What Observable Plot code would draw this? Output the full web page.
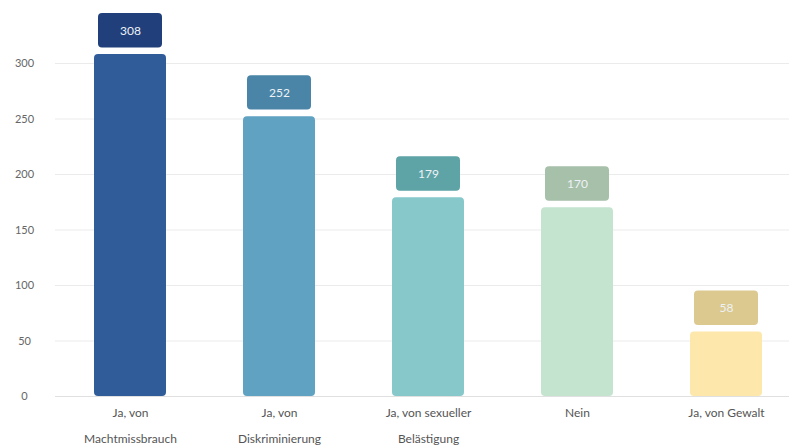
<!DOCTYPE html>
<html><head><meta charset="utf-8">
<script src="https://cdn.jsdelivr.net/npm/d3@7"></script>
<script src="https://cdn.jsdelivr.net/npm/@observablehq/plot@0.6"></script>
<style>
body{margin:0;background:#fff;}
svg{overflow:visible;}
</style>
</head><body>
<div id="chart"></div>
<script>
const categories = ["Ja, von\nMachtmissbrauch", "Ja, von\nDiskriminierung", "Ja, von sexueller\nBelästigung", "Nein", "Ja, von Gewalt"];
const values = [308, 252, 179, 170, 58];
const barColors = ["#305d9a", "#5fa2c2", "#87c8cb", "#c4e4cf", "#fde7aa"];
const labelColors = ["#21407b", "#4a85a7", "#5ea4a6", "#a6c0a9", "#dbc98f"];
const yTicks = [0, 50, 100, 150, 200, 250, 300];

const data = categories.map((c, i) => ({cat: c, value: values[i], bar: barColors[i], lab: labelColors[i]}));

const chart = Plot.plot({
  width: 789,
  height: 445,
  marginLeft: 55,
  marginRight: 0,
  marginTop: 0,
  marginBottom: 49,
  style: {fontFamily: "Lato, sans-serif", fontSize: "11px", color: "#555", background: "#fff"},
  x: {domain: categories, range: [54, 802], paddingInner: 0.52, paddingOuter: 0.26, label: null},
  y: {domain: [0, 300], range: [396, 63], label: null},
  marks: [
    Plot.ruleY(yTicks, {stroke: "#ebebeb", strokeWidth: 1}),
    Plot.ruleY([0], {stroke: "#e0e0e0", strokeWidth: 1}),
    Plot.barY(data, {x: "cat", y: "value", fill: "bar", rx: 4}),
    Plot.barY(data, {x: "cat", y1: d => d.value + 6, y2: d => d.value + 37, fill: "lab", rx: 4, insetLeft: 4, insetRight: 4}),
    Plot.text(data, {x: "cat", y: d => d.value + 21.5, text: d => String(d.value), fill: "#eef2f6", fontSize: 12}),
    Plot.axisY(yTicks, {tickSize: 0, tickPadding: 31, textAnchor: "middle", fill: "#666", fontSize: 11, label: null}),
    Plot.axisX({tickSize: 0, tickPadding: 2, lineHeight: 2.15, fill: "#555", fontSize: 12, label: null})
  ]
});
document.getElementById("chart").appendChild(chart);
</script>
</body></html>
